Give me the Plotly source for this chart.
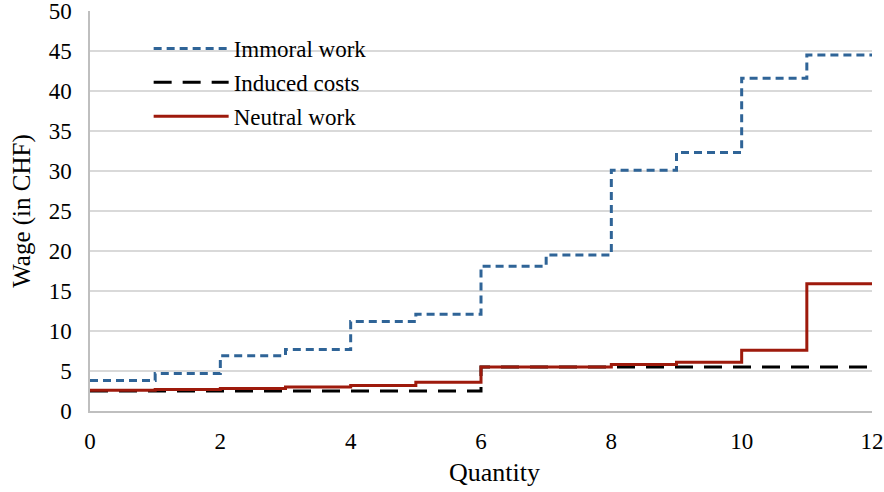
import plotly.graph_objects as go

quantity = [0, 1, 2, 3, 4, 5, 6, 7, 8, 9, 10, 11, 12]

# step values, last one repeated so the step reaches x=12
immoral_work = [3.8, 4.7, 6.9, 7.7, 11.2, 12.1, 18.1, 19.5, 30.1, 32.3, 41.6, 44.5, 44.5]
induced_costs = [2.5, 2.5, 2.5, 2.5, 2.5, 2.5, 5.5, 5.5, 5.5, 5.5, 5.5, 5.5, 5.5]
neutral_work = [2.6, 2.7, 2.8, 3.0, 3.2, 3.6, 5.5, 5.5, 5.8, 6.1, 7.6, 15.9, 15.9]

font_family = "Liberation Serif, Times New Roman, serif"

fig = go.Figure()

fig.add_trace(go.Scatter(
    x=quantity, y=immoral_work, mode="lines", name="Immoral work",
    legendgroup="immoral",
    line=dict(shape="hv", color="#2F6497", width=3, dash="8px,5px"),
))
fig.add_trace(go.Scatter(
    x=quantity, y=induced_costs, mode="lines", name="Induced costs",
    legendgroup="induced",
    line=dict(shape="hv", color="black", width=3, dash="18px,11px"),
))
fig.add_trace(go.Scatter(
    x=quantity, y=neutral_work, mode="lines", name="Neutral work",
    legendgroup="neutral",
    line=dict(shape="hv", color="#9E1A0C", width=3),
))

fig.update_layout(
    width=884,
    height=492,
    plot_bgcolor="white",
    paper_bgcolor="white",
    margin=dict(l=90, r=12, t=11, b=81),
    font=dict(family=font_family, size=23, color="black"),
    showlegend=True,
    legend=dict(
        x=0.075, y=0.96, xanchor="left", yanchor="top",
        bgcolor="rgba(0,0,0,0)",
        font=dict(family=font_family, size=23),
        itemwidth=75,
        tracegroupgap=1,
    ),
)

# x title placed as annotation, the original sits a bit right of centre
fig.add_annotation(
    text="Quantity", xref="paper", yref="paper", x=0.517, y=-0.112,
    xanchor="center", yanchor="top", showarrow=False,
    font=dict(family=font_family, size=26),
)

fig.update_xaxes(
    range=[0, 12], dtick=2, tick0=0,
    showgrid=False, zeroline=False, automargin=False,
    showline=True, linecolor="#BFBFBF", linewidth=1.5,
    ticks="", ticklabelstandoff=9, ticklabeloverflow="allow",
    tickfont=dict(family=font_family, size=23),
)
fig.update_yaxes(
    range=[0, 50], dtick=5, tick0=0,
    showgrid=True, gridcolor="#D9D9D9", gridwidth=1.5,
    zeroline=False, automargin=False,
    showline=True, linecolor="#BFBFBF", linewidth=1.5,
    ticks="", ticklabelstandoff=12, ticklabeloverflow="allow",
    tickfont=dict(family=font_family, size=23),
    title=dict(text="Wage (in CHF)", font=dict(family=font_family, size=25), standoff=11),
)

fig.write_html("out.html", config={"displayModeBar": False},
               post_script="document.body.style.margin='0';")
